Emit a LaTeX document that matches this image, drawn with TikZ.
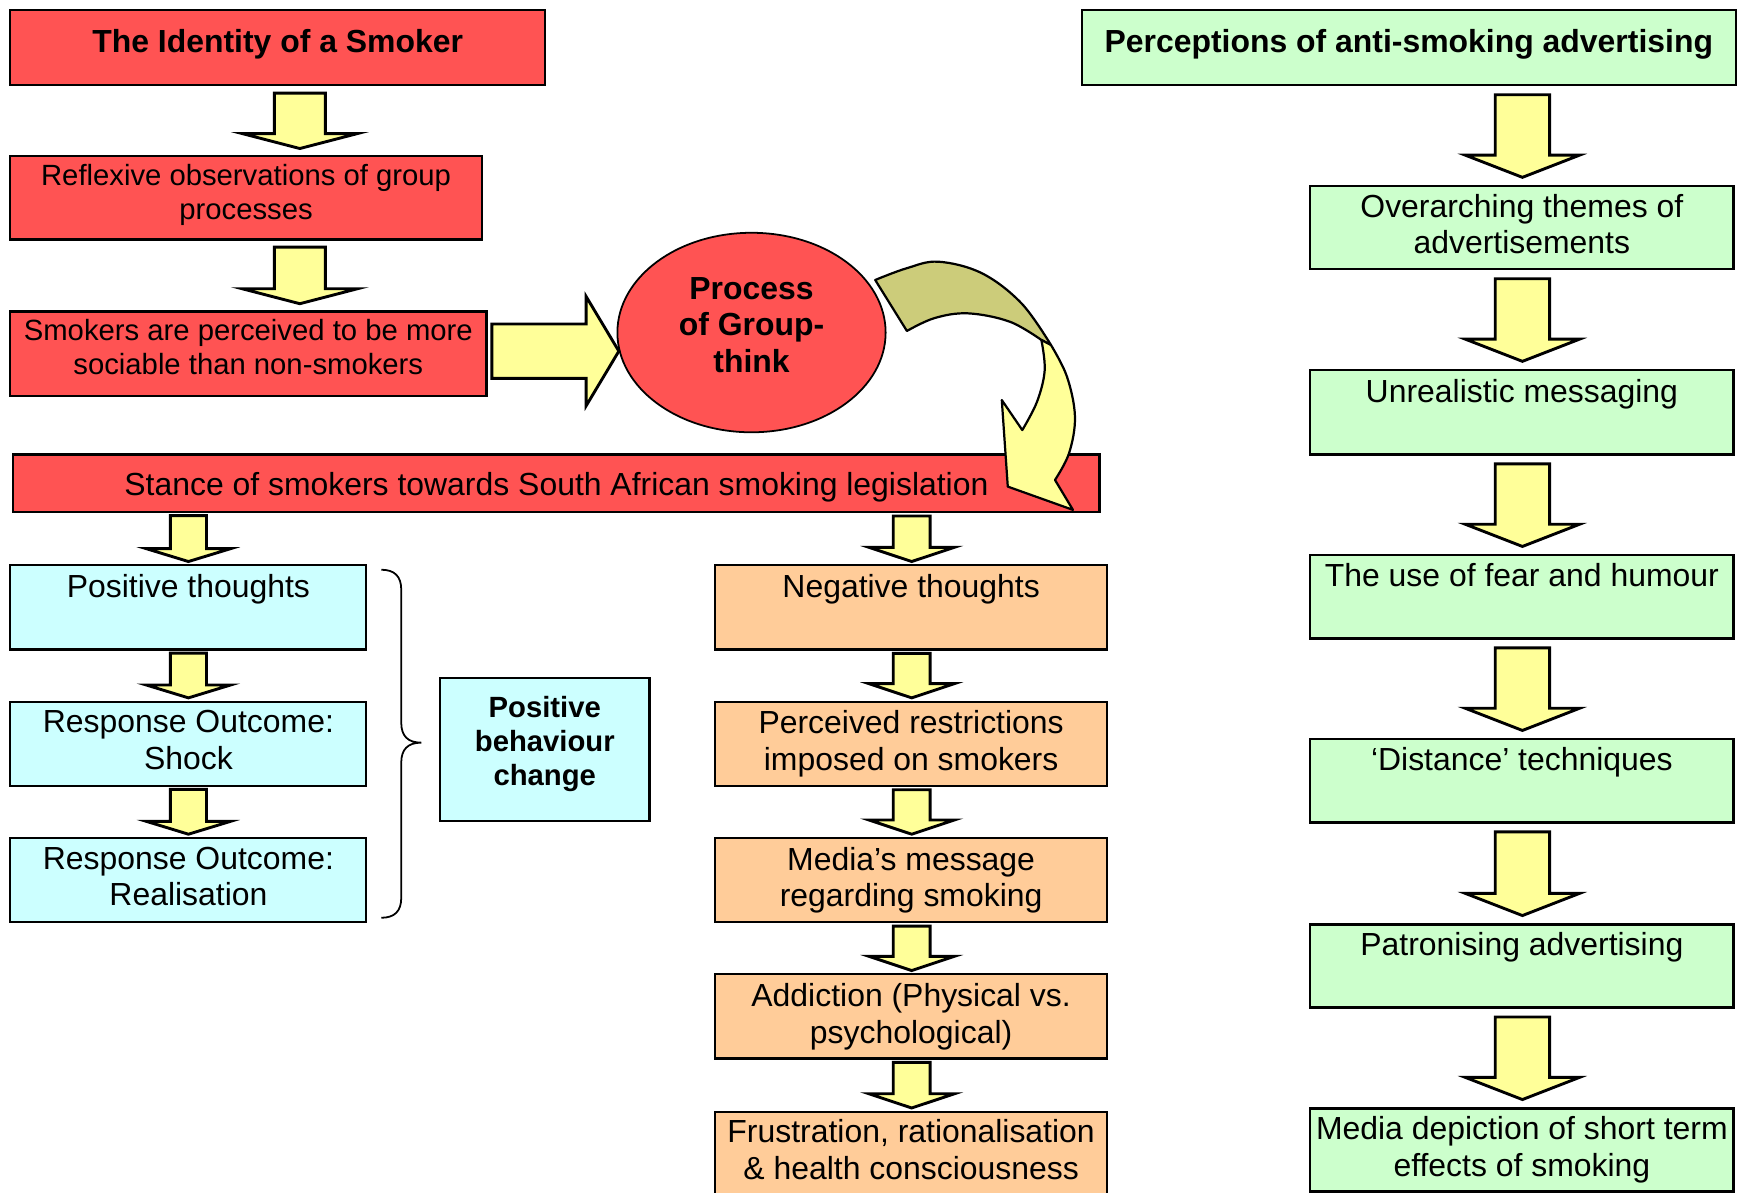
\documentclass[tikz,border=0pt]{standalone}
\usepackage{fontspec}
\setmainfont{Liberation Sans}
\usetikzlibrary{calc,shapes.geometric}
\definecolor{cred}{HTML}{FF5353}
\definecolor{cyel}{HTML}{FFFF99}
\definecolor{ckha}{HTML}{CCCC7A}
\definecolor{ccya}{HTML}{CCFFFF}
\definecolor{cora}{HTML}{FFCC99}
\definecolor{cgrn}{HTML}{CCFFCC}
% #1 x(px), #2 from node, #3 to node, #4 top gap, #5 bottom gap, #6 half shaft, #7 half head, #8 head length
\newcommand\blkdown[8]{%
  \draw[blk] let \p1=(#2.south), \p2=(#3.north) in
    ({#1*0.5pt-#6*0.5pt},{\y1-#4*0.5pt}) -- ({#1*0.5pt+#6*0.5pt},{\y1-#4*0.5pt})
    -- ({#1*0.5pt+#6*0.5pt},{\y2+#5*0.5pt+#8*0.5pt}) -- ({#1*0.5pt+#7*0.5pt},{\y2+#5*0.5pt+#8*0.5pt})
    -- ({#1*0.5pt},{\y2+#5*0.5pt})
    -- ({#1*0.5pt-#7*0.5pt},{\y2+#5*0.5pt+#8*0.5pt}) -- ({#1*0.5pt-#6*0.5pt},{\y2+#5*0.5pt+#8*0.5pt}) -- cycle;}
\newcommand\reddn[2]{\blkdown{270.5}{#1}{#2}{6}{6}{23}{52}{13.5}}
\newcommand\grndn[2]{\blkdown{1373.5}{#1}{#2}{7.5}{7}{24.5}{51.5}{20}}
\newcommand\bludn[2]{\blkdown{170}{#1}{#2}{2.2}{2.4}{16.3}{38}{11.6}}
\newcommand\orgdn[2]{\blkdown{822.5}{#1}{#2}{2.5}{2.4}{16.6}{38.5}{12.8}}
\begin{document}
\begin{tikzpicture}[x=0.5pt,y=-0.5pt,
  bx/.style={draw=black, line width=1pt, inner sep=0pt, rectangle},
  redbx/.style={bx, fill=cred},
  cyabx/.style={bx, fill=ccya},
  orabx/.style={bx, fill=cora},
  grnbx/.style={bx, fill=cgrn},
  txt/.style={inner sep=0pt, align=center, anchor=north, font=\fontsize{14.4}{16.5}\selectfont},
  stxt/.style={inner sep=0pt, align=center, anchor=north, font=\fontsize{13.2}{15.5}\selectfont},
  btxt/.style={inner sep=0pt, align=center, anchor=north, font=\bfseries\fontsize{14.4}{16.5}\selectfont},
  sbtxt/.style={inner sep=0pt, align=center, anchor=north, font=\bfseries\fontsize{13.2}{15.5}\selectfont},
  blk/.style={draw=black, line width=1.3pt, fill=cyel, line join=miter},
]
\useasboundingbox (0,0) rectangle (1568,1076);

% ---------- red column ----------
\node[redbx, minimum width=241.5pt, minimum height=34pt] (idn) at (250.5,43) {};
\node[btxt] (idnt) at (250.5,25.7) {The Identity of a Smoker};
\node[redbx, minimum width=213pt, minimum height=37.5pt] (refl) at (222,178.5) {};
\node[stxt] (reflt) at (222,147.5) {Reflexive observations of group\\processes};
\node[redbx, minimum width=215pt, minimum height=38pt] (soc) at (224,319) {};
\node[stxt] (soct) at (224,287.5) {Smokers are perceived to be more\\sociable than non-smokers};
\node[ellipse, draw=black, line width=0.8pt, fill=cred, minimum width=121pt, minimum height=90pt, inner sep=0pt] (grp) at (678,300) {};
\node[btxt] (grpt) at (678,249.7) {Process\\of Group-\\think};
\node[redbx, minimum width=490pt, minimum height=26pt] (stance) at (502,436) {};
\node[txt] (stancet) at (502,425.7) {Stance of smokers towards South African smoking legislation};

\reddn{idn}{refl}
\reddn{refl}{soc}

% right block arrow into ellipse
\draw[blk] let \p1=(soc.east), \p2=(grp.188) in
  ({\x1+3.7*0.5pt},{\y2+24.5*0.5pt}) -- ({\x2-29.5*0.5pt},{\y2+24.5*0.5pt})
  -- ({\x2-29.5*0.5pt},{\y2+49.3*0.5pt}) -- (\x2,\y2)
  -- ({\x2-29.5*0.5pt},{\y2-49.3*0.5pt}) -- ({\x2-29.5*0.5pt},{\y2-24.5*0.5pt})
  -- ({\x1+3.7*0.5pt},{\y2-24.5*0.5pt}) -- cycle;

% curved arrow (back part)
\filldraw[fill=ckha, draw=black, line width=1pt, line join=round]
  plot[smooth, tension=0.6] coordinates {(789.6,252.6) (818,242) (846.7,236.1) (886,246.6) (921.6,273.7) (948.2,311.3)}
  -- plot[smooth, tension=0.6] coordinates {(939.5,306.7) (910.9,290.2) (873.4,282.7) (843,287) (818.2,298.6)}
  -- cycle;
% curved arrow (front part)
\filldraw[fill=cyel, draw=black, line width=1pt, line join=round]
  plot[smooth, tension=0.6] coordinates {(939.5,306.7) (942.5,334) (935.6,362.4) (922.3,388)}
  -- (903.8,360.9) -- (909.2,439) -- (968,460) -- (951.8,433)
  -- plot[smooth, tension=0.6] coordinates {(951.8,433) (964.5,408.8) (969.8,375.9) (962.6,339.8) (948.2,311.3)}
  -- cycle;

% ---------- blue column ----------
\node[cyabx, minimum width=160.5pt, minimum height=38pt] (pos) at (169.5,548) {};
\node[txt] (post) at (170,517.7) {Positive thoughts};
\node[cyabx, minimum width=160.5pt, minimum height=38pt] (shock) at (169.5,671) {};
\node[txt] (shockt) at (170,640.7) {Response Outcome:\\Shock};
\node[cyabx, minimum width=160.5pt, minimum height=38pt] (real) at (169.5,794) {};
\node[txt] (realt) at (170,763.7) {Response Outcome:\\Realisation};
\node[cyabx, minimum width=94.5pt, minimum height=64.5pt] (pbc) at (491.5,676.5) {};
\node[sbtxt] (pbct) at (491.5,627.5) {Positive\\behaviour\\change};

\bludn{stance}{pos}
\bludn{pos}{shock}
\bludn{shock}{real}

\draw[line width=0.8pt] (344,514) .. controls (356,514) and (362,520) .. (362,532)
  -- (362,652) .. controls (362,664) and (368,670) .. (380,670)
  .. controls (368,670) and (362,676) .. (362,688)
  -- (362,810) .. controls (362,822) and (356,828) .. (344,828);

% ---------- orange column ----------
\node[orabx, minimum width=177pt, minimum height=38pt] (neg) at (822,548) {};
\node[txt] (negt) at (822,517.7) {Negative thoughts};
\node[orabx, minimum width=177pt, minimum height=38pt] (restr) at (822,671) {};
\node[txt] (restrt) at (822,640.7) {Perceived restrictions\\imposed on smokers};
\node[orabx, minimum width=177pt, minimum height=38pt] (media) at (822,794) {};
\node[txt] (mediat) at (822,763.7) {Media’s message\\regarding smoking};
\node[orabx, minimum width=177pt, minimum height=38pt] (addict) at (822,917) {};
\node[txt] (addictt) at (822,886.7) {Addiction (Physical vs.\\psychological)};
\node[orabx, minimum width=177pt, minimum height=43.5pt] (frus) at (822,1046.5) {};
\node[txt] (frust) at (822,1009.7) {Frustration, rationalisation\\\& health consciousness};

\orgdn{stance}{neg}
\orgdn{neg}{restr}
\orgdn{restr}{media}
\orgdn{media}{addict}
\orgdn{addict}{frus}

% ---------- green column ----------
\node[grnbx, minimum width=295pt, minimum height=34pt] (perc) at (1271,43) {};
\node[btxt] (perct) at (1271,25.7) {Perceptions of anti-smoking advertising};
\node[grnbx, minimum width=191pt, minimum height=37.5pt] (over) at (1373,205.5) {};
\node[txt] (overt) at (1373,174.7) {Overarching themes of\\advertisements};
\node[grnbx, minimum width=191pt, minimum height=38pt] (unreal) at (1373,372) {};
\node[txt] (unrealt) at (1373,341.7) {Unrealistic messaging};
\node[grnbx, minimum width=191pt, minimum height=37.5pt] (fear) at (1373,538.5) {};
\node[txt] (feart) at (1373,507.7) {The use of fear and humour};
\node[grnbx, minimum width=191pt, minimum height=37.5pt] (dist) at (1373,704.5) {};
\node[txt] (distt) at (1373,673.7) {‘Distance’ techniques};
\node[grnbx, minimum width=191pt, minimum height=37.5pt] (patr) at (1373,871.5) {};
\node[txt] (patrt) at (1373,840.7) {Patronising advertising};
\node[grnbx, minimum width=191pt, minimum height=37.5pt] (med2) at (1373,1037.5) {};
\node[txt] (med2t) at (1373,1006.7) {Media depiction of short term\\effects of smoking};

\grndn{perc}{over}
\grndn{over}{unreal}
\grndn{unreal}{fear}
\grndn{fear}{dist}
\grndn{dist}{patr}
\grndn{patr}{med2}
\end{tikzpicture}
\end{document}
